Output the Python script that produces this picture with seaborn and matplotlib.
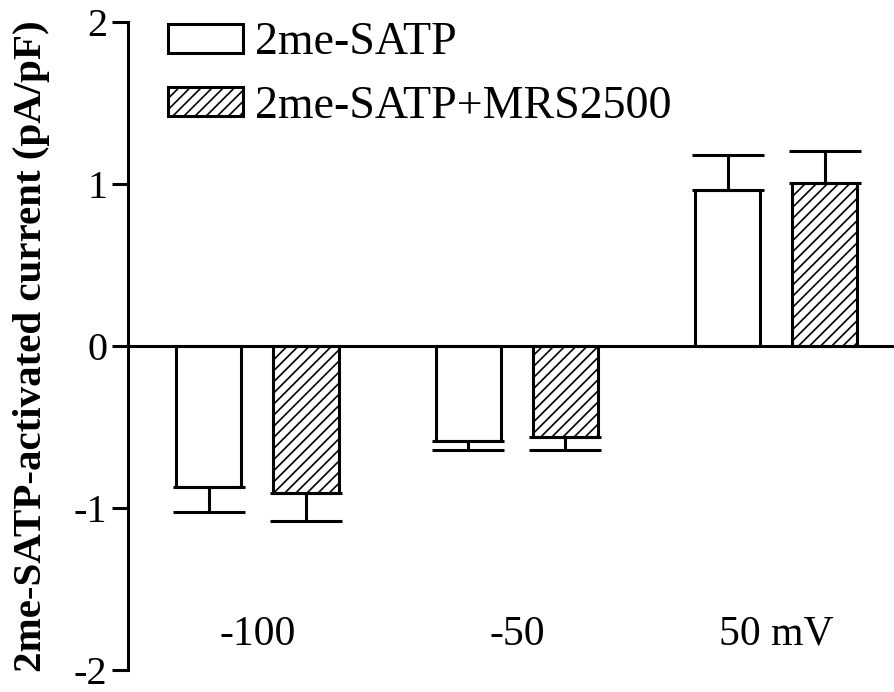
import pandas as pd
import seaborn as sns
import matplotlib
matplotlib.use('Agg')
import matplotlib.pyplot as plt
from matplotlib.patches import Patch

# values (pA/pF)
voltages = ['-100', '-50', '50 mV']
conditions = ['2me-SATP', '2me-SATP+MRS2500']
satp_mean = [-0.87, -0.586, 0.963]
satp_sem = [0.155, 0.055, 0.216]
mrs_mean = [-0.91, -0.56, 1.006]
mrs_sem = [0.17, 0.08, 0.198]

df = pd.DataFrame({
    'voltage': voltages * 2,
    'condition': [conditions[0]] * 3 + [conditions[1]] * 3,
    'current': satp_mean + mrs_mean,
    'sem': satp_sem + mrs_sem,
})

sns.set_style('ticks')
plt.rcParams['font.family'] = ['Liberation Serif', 'DejaVu Serif']
plt.rcParams['axes.unicode_minus'] = False
plt.rcParams['hatch.linewidth'] = 1.2
for key in ['text.color', 'axes.labelcolor', 'xtick.color', 'ytick.color',
            'axes.edgecolor', 'hatch.color']:
    plt.rcParams[key] = 'black'

LW = 2.2

fig = plt.figure(figsize=(8.95, 6.92), dpi=100)
ax = fig.add_axes([128 / 895, 22 / 692, 1 - 128 / 895, 648 / 692])

sns.barplot(data=df, x='voltage', y='current', hue='condition',
            hue_order=conditions, palette=['white', 'white'],
            edgecolor='black', linewidth=LW, errorbar=None,
            width=0.748, gap=0.33, legend=False, ax=ax)

for bar in ax.containers[1]:
    bar.set_hatch('///')

# one-sided error bars (away from zero)
for cont, cond in zip(ax.containers, conditions):
    sub = df[df['condition'] == cond]
    for bar, m, e in zip(cont, sub['current'], sub['sem']):
        xc = bar.get_x() + bar.get_width() / 2
        yerr = [[e], [0]] if m < 0 else [[0], [e]]
        ax.errorbar(xc, m, yerr=yerr, fmt='none', ecolor='black',
                    elinewidth=LW, capsize=26, capthick=LW, zorder=1)

ax.axhline(0, color='black', lw=LW, zorder=5)

ax.set_ylim(-2, 2)
ax.set_xlim(-0.499, 2.457)
ax.set_yticks([-2, -1, 0, 1, 2])
ax.set_yticklabels(['-2', '-1', '0', '1', '2'])
ax.tick_params(axis='y', length=11.5, width=LW, labelsize=29, pad=3.5)
ax.tick_params(axis='x', bottom=False, labelbottom=False)
ax.set_xlabel('')
ax.set_ylabel('')

for s in ['top', 'right', 'bottom']:
    ax.spines[s].set_visible(False)
ax.spines['left'].set_linewidth(LW)

for i, v in enumerate(voltages):
    ax.text(i, -1.78, v, ha='center', va='center', fontsize=30)

fig.text(32 / 895, 0.5, '2me-SATP-activated current (pA/pF)', rotation=90,
         ha='center', va='center', fontsize=29.5, fontweight='bold')

handles = [Patch(facecolor='white', edgecolor='black', linewidth=LW),
           Patch(facecolor='white', edgecolor='black', linewidth=LW, hatch='///')]
ax.legend(handles, conditions, loc='upper left', bbox_to_anchor=(0.052, 1.0),
          frameon=False, fontsize=33, handlelength=1.63, handleheight=0.6,
          handletextpad=0.28, labelspacing=0.45, borderpad=0, borderaxespad=0)

fig.savefig('out.png', dpi=100)
